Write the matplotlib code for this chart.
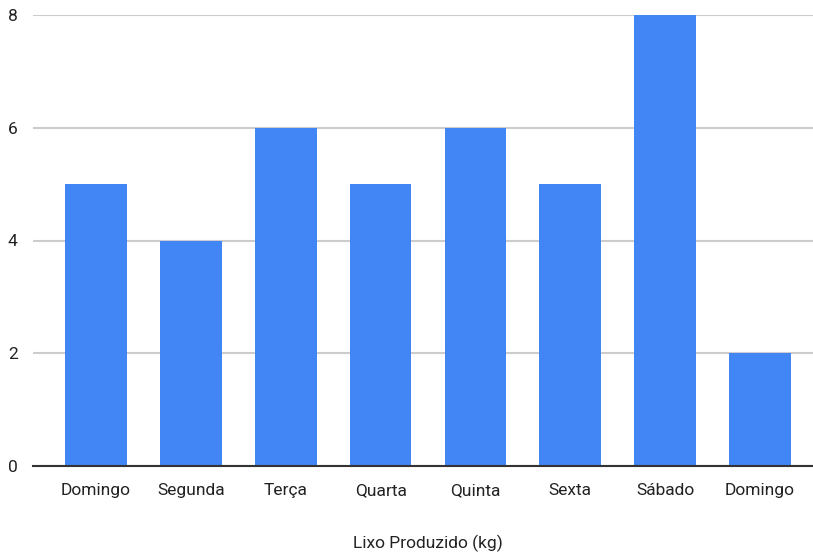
import matplotlib.pyplot as plt

dias = ['Domingo', 'Segunda', 'Terça', 'Quarta', 'Quinta', 'Sexta', 'Sábado', 'Domingo']
lixo_kg = [5, 4, 6, 5, 6, 5, 8, 2]
y_ticks = [0, 2, 4, 6, 8]

plt.rcParams['font.family'] = ['Roboto', 'DejaVu Sans']

fig = plt.figure(figsize=(8.13, 5.57), dpi=100)
ax = fig.add_axes([33/813, 1 - 466/557, 1 - 33/813, (466 - 15)/557])

x = list(range(len(dias)))
ax.bar(x, lixo_kg, width=0.65, color='#4285F4', zorder=3)

ax.set_xlim(-0.664, 7.558)
ax.set_ylim(0, 8)
ax.set_yticks(y_ticks)
ax.set_xticks(x)
ax.set_xticklabels(dias)
ax.tick_params(axis='both', length=0, labelsize=12.5, colors='#222222')
ax.tick_params(axis='x', pad=12)
ax.tick_params(axis='y', pad=11)

ax.grid(axis='y', color='#cccccc', linewidth=1.5, zorder=0)
ax.set_axisbelow(True)
for s in ['top', 'right', 'left']:
    ax.spines[s].set_visible(False)
ax.spines['bottom'].set_color('#333333')
ax.spines['bottom'].set_linewidth(1.5)
ax.spines['bottom'].set_zorder(4)

fig.text(428/813, 1 - 543/557, 'Lixo Produzido (kg)', ha='center', va='center',
         fontsize=12.5, color='#222222')

fig.savefig('out.png', dpi=100)
